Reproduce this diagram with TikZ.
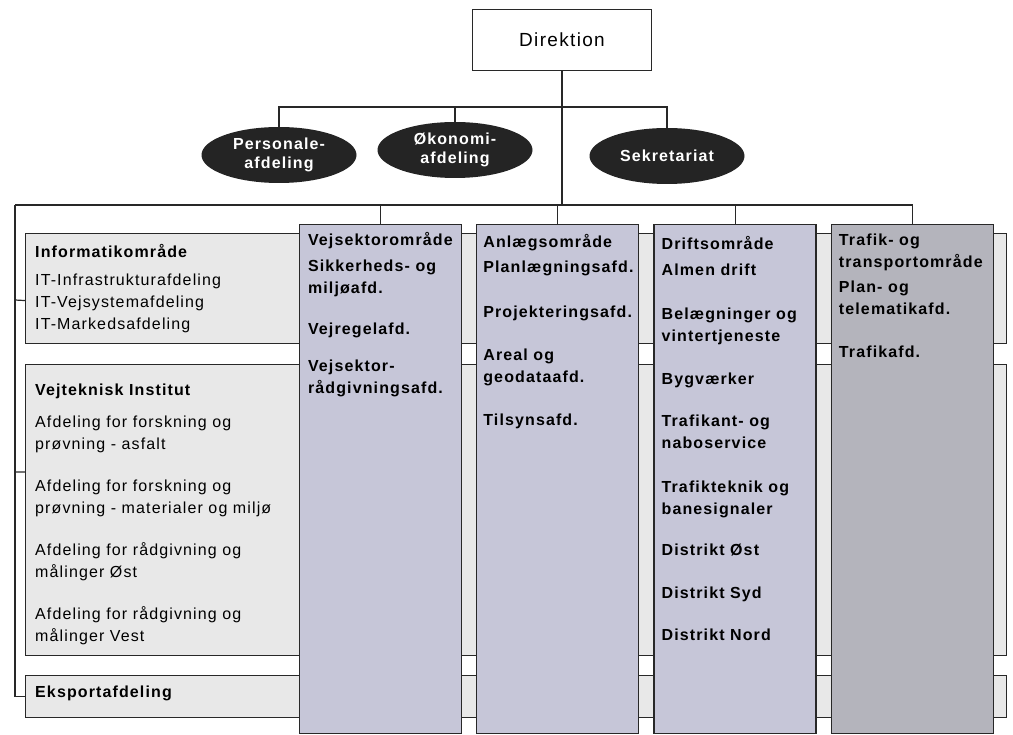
\documentclass[tikz,border=0pt]{standalone}
\usepackage{fontspec}
\setmainfont{Liberation Sans}[LetterSpace=7]
\usetikzlibrary{positioning,shapes.geometric}
\definecolor{LineDark}{RGB}{40,40,40}
\definecolor{UnitFill}{RGB}{232,232,232}
\definecolor{AreaFill}{RGB}{198,198,216}
\definecolor{TrafikFill}{RGB}{180,180,188}
\definecolor{StaffFill}{RGB}{36,36,36}

\begin{document}
\begin{tikzpicture}[x=1pt, y=-1pt,
    unit/.style={rectangle, draw=LineDark, line width=1.1pt, fill=UnitFill,
        minimum width=981pt, anchor=north west, inner sep=0pt},
    area/.style={rectangle, draw=LineDark, line width=1.3pt, fill=AreaFill,
        minimum width=162pt, minimum height=509pt, anchor=north, inner sep=0pt},
    staff/.style={ellipse, fill=StaffFill, minimum width=155pt, minimum height=56pt,
        inner sep=0pt, text=white, align=center, font=\bfseries\fontsize{16}{19}\selectfont},
    txt/.style={anchor=north west, inner sep=0pt, align=left, font=\fontsize{16}{22}\selectfont},
    areatxt/.style={txt, font=\bfseries\fontsize{16}{22}\selectfont},
    link/.style={draw=LineDark, line width=1.2pt},
]
\useasboundingbox (0,0) rectangle (1013,735);
\fill[white] (0,0) rectangle (1013,735);

% top management
\node[rectangle, draw=LineDark, line width=1pt, fill=white, minimum width=179pt,
    minimum height=61pt, font=\fontsize{19}{22}\selectfont] (direktion) at (562,40) {Direktion};
\node[staff] (personale) at (279,155) {Personale-\\afdeling};
\node[staff] (oekonomi) at (455,150) {Økonomi-\\afdeling};
\node[staff] (sekretariat) at (667,156) {Sekretariat};

% units running across the chart
\node[unit, minimum height=110pt] (informatik) at (25,233) {};
\node[unit, minimum height=291pt] (vejteknisk) at (25,364) {};
\node[unit, minimum height=42pt] (eksport) at (25,675) {};

% the four areas
\node[area] (vejsektor) at (380.5,224) {};
\node[area, right=14pt of vejsektor] (anlaeg) {};
\node[area, right=14pt of anlaeg] (drift) {};
\node[area, fill=TrafikFill, right=14pt of drift] (trafik) {};

% connectors
\coordinate (staffbar) at (562,107);
\coordinate (areabar) at (562,205);
\coordinate (leftbar) at (15,205);
\draw[link] (direktion.south) -- (areabar);
\draw[link] (personale.north) |- (staffbar) -| (sekretariat.north);
\draw[link] (oekonomi.north) -- (oekonomi.north |- staffbar);
\draw[link] (leftbar) -| (trafik.north);
\foreach \n in {vejsektor, anlaeg, drift}
    \draw[link] (\n.north) -- (\n.north |- areabar);
\draw[link] (leftbar) |- (eksport.west);
\draw[link] (leftbar |- 0,300) -- ([yshift=-12pt]informatik.west);
\draw[link] (leftbar |- 0,472) -- ([yshift=38pt]vejteknisk.west);

% texts
\node[txt] (informatik-txt) at ([xshift=10pt,yshift=-11pt]informatik.north west)
    {\textbf{Informatikområde}\\[6pt] IT-Infrastrukturafdeling\\ IT-Vejsystemafdeling\\ IT-Markedsafdeling};
\node[txt] (vejteknisk-txt) at ([xshift=10pt,yshift=-20pt]vejteknisk.north west)
    {\textbf{Vejteknisk Institut}\\[10pt] Afdeling for forskning og\\ prøvning - asfalt\\[20pt]
     Afdeling for forskning og\\ prøvning - materialer og miljø\\[20pt]
     Afdeling for rådgivning og\\ målinger Øst\\[20pt]
     Afdeling for rådgivning og\\ målinger Vest};
\node[txt, anchor=west] (eksport-txt) at ([xshift=10pt,yshift=3pt]eksport.west) {\textbf{Eksportafdeling}};

\node[areatxt] (vejsektor-txt) at ([xshift=9pt,yshift=-8pt]vejsektor.north west)
    {Vejsektorområde\\[4pt] Sikkerheds- og\\ miljøafd.\\[19pt] Vejregelafd.\\[15pt] Vejsektor-\\ rådgivningsafd.};
\node[areatxt] (anlaeg-txt) at ([xshift=7pt,yshift=-10pt]anlaeg.north west)
    {Anlægsområde\\[3pt] Planlægningsafd.\\[23pt] Projekteringsafd.\\[21pt] Areal og\\ geodataafd.\\[21pt] Tilsynsafd.};
\node[areatxt] (drift-txt) at ([xshift=8pt,yshift=-12pt]drift.north west)
    {Driftsområde\\[4pt] Almen drift\\[22pt] Belægninger og\\ vintertjeneste\\[21pt] Bygværker\\[20pt]
     Trafikant- og\\ naboservice\\[22pt] Trafikteknik og\\ banesignaler\\[19pt]
     Distrikt Øst\\[21pt] Distrikt Syd\\[20pt] Distrikt Nord};
\node[areatxt] (trafik-txt) at ([xshift=8pt,yshift=-10pt]trafik.north west)
    {Trafik- og\\ transportområde\\[3pt] Plan- og\\ telematikafd.\\[21pt] Trafikafd.};
\end{tikzpicture}
\end{document}
